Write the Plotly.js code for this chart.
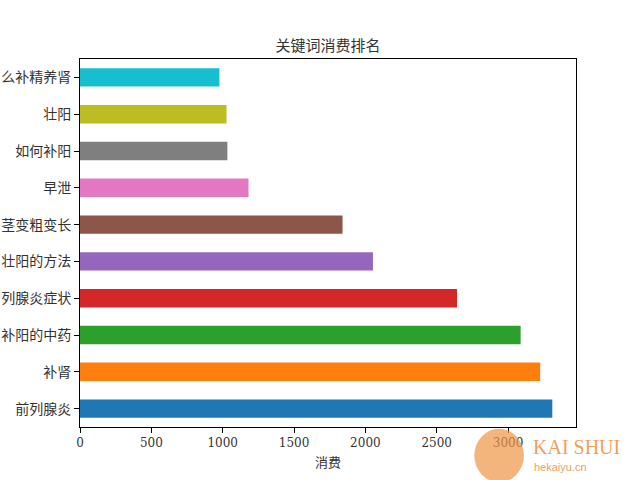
<!DOCTYPE html>
<html>
<head>
<meta charset="utf-8">
<script src="https://cdn.plot.ly/plotly-3.0.1.min.js"></script>
<style>html,body{margin:0;padding:0;background:#fff;}#chart{width:640px;height:480px;}</style>
</head>
<body>
<div id="chart"></div>
<script>
const keywords = ["前列腺炎", "补肾", "补阳的中药", "列腺炎症状", "壮阳的方法", "茎变粗变长", "早泄", "如何补阳", "壮阳", "么补精养肾"];
const spend = [3310, 3225, 3088, 2642, 2053, 1840, 1181, 1033, 1027, 977];
const barColors = ["#1f77b4", "#ff7f0e", "#2ca02c", "#d62728", "#9467bd", "#8c564b", "#e377c2", "#7f7f7f", "#bcbd22", "#17becf"];
const xTicks = [0, 500, 1000, 1500, 2000, 2500, 3000];

const fontFam = "'DejaVu Serif', 'Liberation Serif', 'Noto Serif CJK SC', 'Noto Sans CJK SC', serif";

const trace = {
  type: 'bar',
  orientation: 'h',
  x: spend,
  y: keywords,
  width: 0.5,
  marker: {color: barColors, line: {width: 0}},
  hoverinfo: 'x+y'
};

const layout = {
  width: 640, height: 480,
  margin: {l: 80, r: 64, t: 59, b: 53},
  paper_bgcolor: '#fff', plot_bgcolor: '#fff',
  showlegend: false,
  font: {family: fontFam, color: '#262626', size: 13},
  title: {
    text: '关键词消费排名',
    font: {family: "'Noto Sans CJK SC', sans-serif", size: 15, color: '#333333'},
    x: 0.5, xref: 'paper', xanchor: 'center',
    y: 1, yref: 'paper', yanchor: 'bottom', pad: {b: 8}
  },
  xaxis: {
    range: [0, 3476],
    tickvals: xTicks,
    ticktext: xTicks.map(String),
    ticks: 'outside', ticklen: 5, tickwidth: 1, tickcolor: '#000',
    showline: true, linecolor: '#000', linewidth: 1, mirror: true,
    showgrid: false, zeroline: false,
    tickfont: {family: "'DejaVu Serif', 'Liberation Serif', serif", size: 12, color: '#333333'},
    title: {text: '消费', font: {family: "'Noto Sans CJK SC', sans-serif", size: 13, color: '#333333'}, standoff: 8},
    automargin: false
  },
  yaxis: {
    type: 'category',
    categoryorder: 'array', categoryarray: keywords,
    range: [-0.5, 9.5],
    ticks: 'outside', ticklen: 5, tickwidth: 1, tickcolor: '#000',
    showline: true, linecolor: '#000', linewidth: 1, mirror: true,
    showgrid: false, zeroline: false,
    tickfont: {family: "'Noto Sans CJK SC', sans-serif", size: 14, color: '#333333'},
    automargin: false
  },
  shapes: [
    {type: 'circle', xref: 'paper', yref: 'paper', x0: 0.795, x1: 0.895, y0: -0.15, y1: -0.005, fillcolor: 'rgba(240,150,70,0.7)', line: {width: 0}, layer: 'above'}
  ],
  annotations: [
    {text: 'KAI SHUI', xref: 'paper', yref: 'paper', x: 0.91, y: -0.055, xanchor: 'left', yanchor: 'middle', showarrow: false, font: {family: "'Liberation Serif', serif", size: 20, color: 'rgba(240,140,60,0.85)'}},
    {text: 'hekaiyu.cn', xref: 'paper', yref: 'paper', x: 0.912, y: -0.11, xanchor: 'left', yanchor: 'middle', showarrow: false, font: {family: "'Liberation Sans', sans-serif", size: 11, color: 'rgba(230,140,60,0.85)'}}
  ]
};

Plotly.newPlot('chart', [trace], layout, {displayModeBar: false, staticPlot: true});
</script>
</body>
</html>
